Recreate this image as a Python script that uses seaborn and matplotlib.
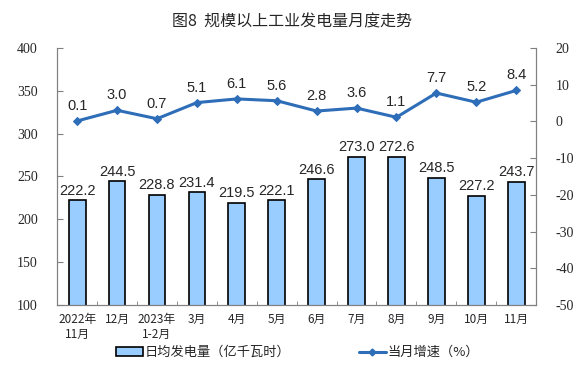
import matplotlib.pyplot as plt
import seaborn as sns
import pandas as pd
from matplotlib.patches import Patch
from matplotlib.lines import Line2D

months = ["2022年\n11月", "12月", "2023年\n1-2月", "3月", "4月", "5月",
          "6月", "7月", "8月", "9月", "10月", "11月"]
daily_output = [222.2, 244.5, 228.8, 231.4, 219.5, 222.1,
                246.6, 273.0, 272.6, 248.5, 227.2, 243.7]
growth = [0.1, 3.0, 0.7, 5.1, 6.1, 5.6, 2.8, 3.6, 1.1, 7.7, 5.2, 8.4]
left_ticks = [100, 150, 200, 250, 300, 350, 400]
right_ticks = [-50, -40, -30, -20, -10, 0, 10, 20]

df = pd.DataFrame({"month": months, "output": daily_output, "growth": growth})
df["pos"] = range(len(df))

sns.set_style("white")
plt.rcParams['font.family'] = ['Noto Sans CJK SC', 'DejaVu Sans']

bar_color = "#99CCFF"
line_color = "#2E6DB8"
serif = ['Liberation Serif', 'DejaVu Serif']
num_font = ['Liberation Sans', 'DejaVu Sans']

fig = plt.figure(figsize=(5.84, 3.71), dpi=100)
ax = fig.add_axes([0.098, 0.178, 0.82, 0.693])

sns.barplot(data=df, x="month", y="output", color=bar_color, width=0.42,
            edgecolor="black", linewidth=1.2, saturation=1, ax=ax)
ax.set_ylim(100, 400)
ax.set_yticks(left_ticks, [str(t) for t in left_ticks], family=serif, fontsize=10)
ax.set_xlim(-0.5, len(months) - 0.5)
ax.set_xlabel(None)
ax.set_ylabel(None)
for i, v in enumerate(daily_output):
    ax.text(i, v + 3, f"{v:.1f}", ha="center", va="bottom", fontsize=10.5,
            family=num_font)

ax2 = ax.twinx()
sns.lineplot(data=df, x="pos", y="growth", color=line_color, marker="D",
             markersize=4.5, markeredgecolor=line_color, linewidth=2.2, ax=ax2)
ax2.set_ylim(-50, 20)
ax2.set_yticks(right_ticks, [str(t) for t in right_ticks], family=serif, fontsize=10)
ax2.set_xlim(-0.5, len(months) - 0.5)
ax2.set_xlabel(None)
ax2.set_ylabel(None)
for i, v in enumerate(growth):
    ax2.text(i, v + 2.2, f"{v:.1f}", ha="center", va="bottom", fontsize=10.5,
             family=num_font)

for a in (ax, ax2):
    a.spines["top"].set_visible(False)
    for s in ("left", "right", "bottom"):
        a.spines[s].set_color("#808080")
        a.spines[s].set_linewidth(0.8)

ax.tick_params(axis="y", direction="in", length=4, color="#808080", left=True, pad=14)
ax2.tick_params(axis="y", direction="in", length=4, color="#808080", right=True, pad=14)
ax.tick_params(axis="x", length=0, labelsize=8.5, pad=6)
ax.set_xticks(range(len(months)), months)
ax.set_xticks([i + 0.5 for i in range(len(months) - 1)], minor=True)
ax.tick_params(axis="x", which="minor", direction="in", length=3, color="#808080", bottom=True)

fig.suptitle("图8  规模以上工业发电量月度走势", fontsize=11.5, y=0.965)

handles = [Patch(facecolor=bar_color, edgecolor="black", linewidth=1.2,
                 label="日均发电量（亿千瓦时）"),
           Line2D([0], [0], color=line_color, marker="D", markersize=3.5,
                  linewidth=2.2, label="当月增速（%）")]
fig.legend(handles=handles, loc="lower center", ncol=2, frameon=False,
           fontsize=9.5, bbox_to_anchor=(0.51, 0.0), columnspacing=5.2,
           handlelength=2.0, handleheight=0.6, handletextpad=0.15)

fig.savefig("out.png", dpi=100)
